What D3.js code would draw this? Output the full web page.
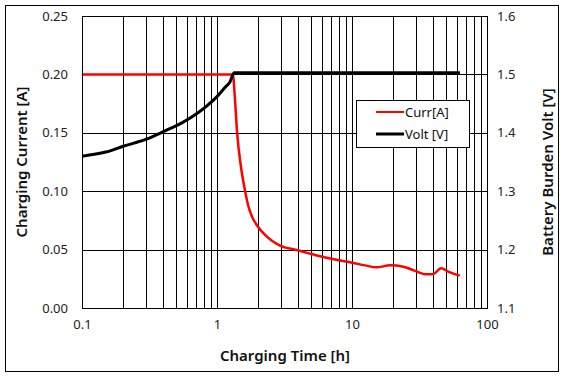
<!DOCTYPE html>
<html>
<head>
<meta charset="utf-8">
<script src="https://cdn.jsdelivr.net/npm/d3@7"></script>
<style>
  body { margin: 0; background: #fff; }
  text { font-family: "Noto Sans", "DejaVu Sans", sans-serif; fill: #111; }
</style>
</head>
<body>
<div class="chart"></div>
<script>
// charging current curve [h, A]
const currTime = [0.1, 1.31, 1.36, 1.41, 1.5, 1.61, 1.7, 1.82, 2.01, 2.3, 2.6, 2.93, 3.89, 5.5, 7.5, 10, 12.5, 15.2, 19.1, 24, 29, 35.7, 40, 45.6, 52, 63];
const currVal  = [0.2, 0.2, 0.178, 0.15, 0.122, 0.101, 0.088, 0.078, 0.0696, 0.062, 0.057, 0.0535, 0.0497, 0.045, 0.0415, 0.0388, 0.0365, 0.0348, 0.0365, 0.0354, 0.032, 0.0288, 0.029, 0.034, 0.031, 0.0277];
// battery voltage curve [h, V]
const voltTime = [0.1, 0.15, 0.202, 0.3, 0.4, 0.55, 0.71, 0.85, 1.0, 1.15, 1.25, 1.34, 63];
const voltVal  = [1.36, 1.367, 1.377, 1.389, 1.402, 1.417, 1.433, 1.447, 1.462, 1.478, 1.4875, 1.503, 1.503];

const xTicks = [0.1, 1, 10, 100];
const yLeftTicks = [0, 0.05, 0.10, 0.15, 0.20, 0.25];
const yRightTicks = [1.1, 1.2, 1.3, 1.4, 1.5, 1.6];

const W = 567, H = 378;
const margin = {top: 16, right: 80, bottom: 70, left: 82};
const width = 487 - margin.left;
const height = 308 - margin.top;

const svg = d3.select('.chart').append('svg')
    .attr('width', W)
    .attr('height', H);

// outer frame
svg.append('rect')
    .attr('x', 5.5).attr('y', 5.5)
    .attr('width', 553).attr('height', 366)
    .attr('fill', 'none').attr('stroke', '#000');

const x = d3.scaleLog().domain([0.1, 100]).range([0, width]);
const yL = d3.scaleLinear().domain([0, 0.25]).range([height, 0]);
const yR = d3.scaleLinear().domain([1.1, 1.6]).range([height, 0]);

const g = svg.append('g')
    .attr('transform', 'translate(' + margin.left + ',' + margin.top + ')');

// vertical grid (log minors)
const gridX = [];
for (let d = 0.1; d < 100; d *= 10) {
    for (let k = 1; k <= 9; k++) gridX.push(+(d * k).toPrecision(3));
}
gridX.push(100);
g.append('g').selectAll('line')
    .data(gridX)
    .enter().append('line')
    .attr('x1', d => Math.round(x(d)) + 0.5)
    .attr('x2', d => Math.round(x(d)) + 0.5)
    .attr('y1', 0).attr('y2', height)
    .attr('stroke', '#000').attr('stroke-width', 1);

// horizontal grid
g.append('g').selectAll('line')
    .data(yLeftTicks)
    .enter().append('line')
    .attr('x1', 0).attr('x2', width)
    .attr('y1', d => Math.round(yL(d)) + 0.5)
    .attr('y2', d => Math.round(yL(d)) + 0.5)
    .attr('stroke', '#000').attr('stroke-width', 1);

// axes
const fmt2 = d3.format('.2f');
const axL = g.append('g')
    .call(d3.axisLeft(yL).tickValues(yLeftTicks).tickFormat(fmt2).tickSize(0).tickPadding(14));
const axR = g.append('g')
    .attr('transform', 'translate(' + width + ',0)')
    .call(d3.axisRight(yR).tickValues(yRightTicks).tickFormat(d3.format('.1f')).tickSize(0).tickPadding(10));
const axB = g.append('g')
    .attr('transform', 'translate(0,' + height + ')')
    .call(d3.axisBottom(x).tickValues(xTicks).tickFormat(d => String(d)).tickSize(0).tickPadding(12));
[axL, axR, axB].forEach(a => {
    a.select('.domain').remove();
    a.selectAll('text').style('font-size', '13px').style('fill', '#222');
});

// data lines
const currLine = d3.line()
    .x((d, i) => x(currTime[i]))
    .y(d => yL(d))
    .curve(d3.curveMonotoneX);
const voltLine = d3.line()
    .x((d, i) => x(voltTime[i]))
    .y(d => yR(d))
    .curve(d3.curveMonotoneX);

g.append('path')
    .datum(currVal)
    .attr('d', currLine)
    .attr('fill', 'none')
    .attr('stroke', '#ff0000')
    .attr('stroke-width', 2.5);

g.append('path')
    .datum(voltVal)
    .attr('d', voltLine)
    .attr('fill', 'none')
    .attr('stroke', '#000')
    .attr('stroke-width', 3);

// plot frame
g.append('rect')
    .attr('x', 0.5).attr('y', 0.5)
    .attr('width', width).attr('height', height)
    .attr('fill', 'none').attr('stroke', '#000');

// legend
const leg = svg.append('g').attr('transform', 'translate(356,100)');
leg.append('rect')
    .attr('x', 0.5).attr('y', 0.5)
    .attr('width', 113).attr('height', 47)
    .attr('fill', '#fff').attr('stroke', '#000');
leg.append('line')
    .attr('x1', 20).attr('x2', 48).attr('y1', 12).attr('y2', 12)
    .attr('stroke', '#ff0000').attr('stroke-width', 2);
leg.append('line')
    .attr('x1', 20).attr('x2', 48).attr('y1', 34).attr('y2', 34)
    .attr('stroke', '#000').attr('stroke-width', 3);
leg.append('text').attr('x', 49).attr('y', 17).style('font-size', '13px').text('Curr[A]');
leg.append('text').attr('x', 49).attr('y', 39).style('font-size', '13px').text('Volt [V]');

// axis titles
svg.append('text')
    .attr('x', 285).attr('y', 361)
    .attr('text-anchor', 'middle')
    .style('font-size', '15px').style('font-weight', 600)
    .text('Charging Time [h]');
svg.append('text')
    .attr('transform', 'translate(27,162) rotate(-90)')
    .attr('text-anchor', 'middle')
    .style('font-size', '15px').style('font-weight', 600)
    .text('Charging Current [A]');
svg.append('text')
    .attr('transform', 'translate(553,172) rotate(-90)')
    .attr('text-anchor', 'middle')
    .style('font-size', '15px').style('font-weight', 600)
    .text('Battery Burden Volt [V]');
</script>
</body>
</html>
